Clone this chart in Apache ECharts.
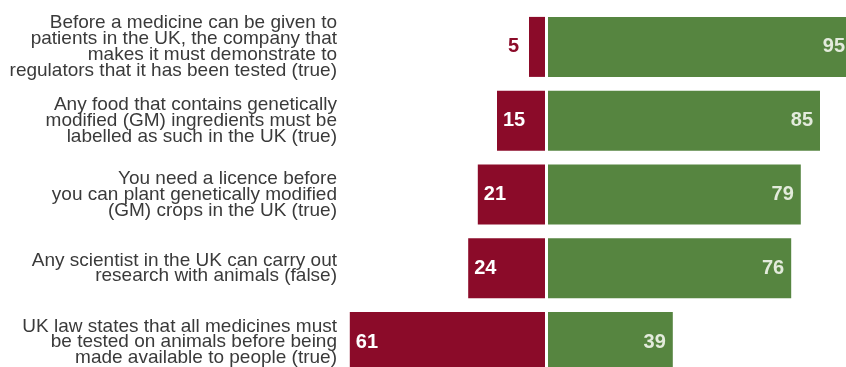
<!DOCTYPE html>
<html>
<head>
<meta charset="utf-8">
<script src="https://cdn.jsdelivr.net/npm/echarts@6/dist/echarts.min.js"></script>
<style>
  html, body { margin: 0; padding: 0; background: #ffffff; }
  #chart { width: 846px; height: 367px; }
</style>
</head>
<body>
<div id="chart"></div>
<script>
// Statements about UK regulation, with the share answering each way (%)
const statements = [
  'Before a medicine can be given to\npatients in the UK, the company that\nmakes it must demonstrate to\nregulators that it has been tested (true)',
  'Any food that contains genetically\nmodified (GM) ingredients must be\nlabelled as such in the UK (true)',
  'You need a licence before\nyou can plant genetically modified\n(GM) crops in the UK (true)',
  'Any scientist in the UK can carry out\nresearch with animals (false)',
  'UK law states that all medicines must\nbe tested on animals before being\nmade available to people (true)'
];
const incorrectShare = [5, 15, 21, 24, 61];
const correctShare = [95, 85, 79, 76, 39];

const RED = '#8b0b29';
const GREEN = '#568540';
const FONT = '"Liberation Sans", Arial, sans-serif';

const chart = echarts.init(document.getElementById('chart'), null, { renderer: 'canvas' });

// Small bars get their number outside, in the bar colour
const redData = incorrectShare.map(v => v < 10
  ? { value: v, label: { position: 'left', distance: 10, color: RED } }
  : { value: v });

chart.setOption({
  animation: false,
  backgroundColor: '#ffffff',
  grid: [
    { left: 345, width: 200, top: 10, height: 369, outerBoundsMode: 'none' },
    { left: 548, width: 320, top: 10, height: 369, outerBoundsMode: 'none' }
  ],
  xAxis: [
    { gridIndex: 0, type: 'value', min: 0, max: 62.5, inverse: true, show: false },
    { gridIndex: 1, type: 'value', min: 0, max: 100, show: false }
  ],
  yAxis: [
    {
      gridIndex: 0, type: 'category', data: statements, inverse: true,
      axisLine: { show: false }, axisTick: { show: false },
      axisLabel: {
        align: 'right', margin: 8, color: '#3a3a3a',
        fontFamily: FONT, fontSize: 19, lineHeight: 15.8
      }
    },
    {
      gridIndex: 1, type: 'category', data: statements, inverse: true, show: false
    }
  ],
  series: [
    {
      type: 'bar', xAxisIndex: 0, yAxisIndex: 0, data: redData, barWidth: 60,
      itemStyle: { color: RED },
      label: {
        show: true, position: 'insideLeft', distance: 6, color: '#ffffff',
        fontFamily: FONT, fontWeight: 'bold', fontSize: 20
      }
    },
    {
      type: 'bar', xAxisIndex: 1, yAxisIndex: 1, data: correctShare, barWidth: 60,
      itemStyle: { color: GREEN },
      label: {
        show: true, position: 'insideRight', distance: 7, color: '#e3ebdc',
        fontFamily: FONT, fontWeight: 'bold', fontSize: 20
      }
    }
  ]
});
</script>
</body>
</html>
